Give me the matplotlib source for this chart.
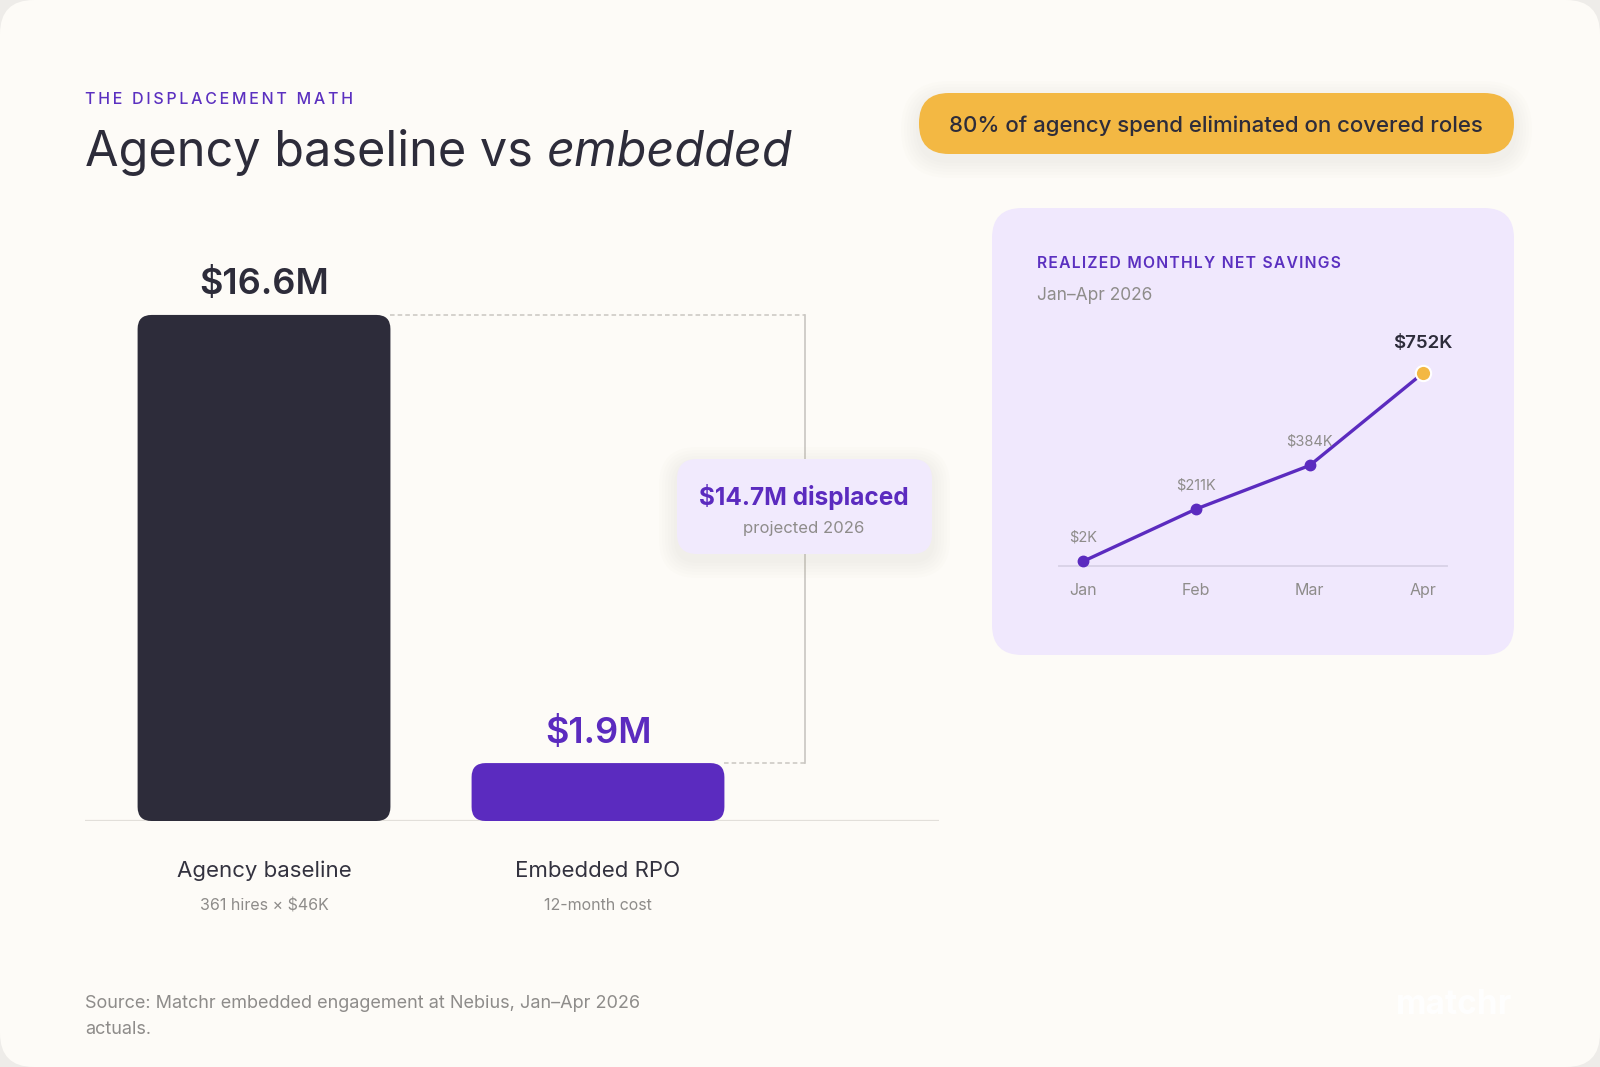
import matplotlib
matplotlib.use("Agg")
from matplotlib import pyplot as plt
from matplotlib.patches import FancyBboxPatch

# data
categories = ["Agency baseline", "Embedded RPO"]
sublabels = ["361 hires \u00d7 $46K", "12-month cost"]
costs = [16.6, 1.9]            # $M
cost_labels = ["$16.6M", "$1.9M"]
displaced = "$14.7M displaced"

months = ["Jan", "Feb", "Mar", "Apr"]
savings = [2, 211, 384, 752]  # $K
saving_labels = ["$2K", "$211K", "$384K", "$752K"]

DARK = "#2D2C3A"
PURPLE = "#5B2BBF"
YELLOW = "#F3B843"
CREAM = "#FDFBF7"
LAV = "#F0E8FD"
GREY = "#8E8C8A"

plt.rcParams["font.family"] = ["Inter", "DejaVu Sans"]

W, H = 1600, 1067
fig = plt.figure(figsize=(16, 10.67), dpi=100)
fig.patch.set_facecolor("#EEECE9")


def fx(px):
    return px / W


def fy(py):
    return 1 - py / H


def track(s, sp="\u2009"):
    return sp.join(s)


def rbox(ax, x0, y0, x1, y1, r, color, z=1, **kw):
    p = FancyBboxPatch((x0, y0), x1 - x0, y1 - y0,
                       boxstyle="round,pad=0,rounding_size=%g" % r,
                       fc=color, ec="none", zorder=z, **kw)
    ax.add_patch(p)
    return p


def shadow(ax, x0, y0, x1, y1, r, z=1):
    for i in range(6):
        g = 3 + i * 3
        rbox(ax, x0 - g, y0 - g + 6, x1 + g, y1 + g + 6, r + g, "#B8A890",
             z=z, alpha=0.018)


# background in pixel coordinates
bg = fig.add_axes([0, 0, 1, 1], zorder=0)
bg.set_xlim(0, W)
bg.set_ylim(H, 0)
bg.axis("off")
rbox(bg, 0, 0, W, H, 34, CREAM)

bg.text(85, 100, track("THE DISPLACEMENT MATH"), color="#5B30C0",
        fontsize=11.5, fontweight="medium", va="center", ha="left")
t = bg.text(85, 153, "Agency baseline vs ", color=DARK, fontsize=35,
            fontweight="normal", va="center", ha="left")
fig.canvas.draw()
bb = t.get_window_extent()
bg.text(85 + bb.width, 153, "embedded", color=DARK, fontsize=35,
        fontweight="normal", style="italic", va="center", ha="left")

# pill
shadow(bg, 919, 93, 1514, 154, 30)
rbox(bg, 919, 93, 1514, 154, 30, YELLOW, z=2)
bg.text(1216, 126, "80% of agency spend eliminated on covered roles",
        color=DARK, fontsize=16, fontweight="medium", ha="center",
        va="center", zorder=3)

# inset card
rbox(bg, 992, 208, 1514, 655, 30, LAV)
bg.text(1037, 264, track("REALIZED MONTHLY NET SAVINGS", "\u200a"),
        color="#5B30C0", fontsize=11.3, fontweight="semibold", va="center",
        ha="left")
bg.text(1037, 296, "Jan\u2013Apr 2026", color=GREY, fontsize=12.5,
        va="center", ha="left")

# footer
bg.text(85, 1004, "Source: Matchr embedded engagement at Nebius, Jan\u2013Apr 2026",
        color=GREY, fontsize=13, va="center", ha="left")
bg.text(85, 1030, "actuals.", color=GREY, fontsize=13, va="center", ha="left")
bg.text(1454, 1005, "matchr", color="white", fontsize=24, fontweight="bold",
        va="center", ha="center", alpha=0.9)

# bar chart
ax = fig.add_axes([fx(85), fy(821), fx(939 - 85), (821 - 250) / H], zorder=1)
ax.patch.set_alpha(0)
ax.set_xlim(-0.536, 2.021)
ax.set_ylim(0, 18.73)
for s in ax.spines.values():
    s.set_visible(False)
ax.set_xticks([])
ax.set_yticks([])
ax.axhline(0, color="#E2DFDA", lw=1.6, zorder=1)

bars = ax.bar(range(len(costs)), costs, width=0.757, color=[DARK, PURPLE])
fig.canvas.draw()
abb = ax.get_window_extent()
ppx = abb.width / (ax.get_xlim()[1] - ax.get_xlim()[0])
ppy = abb.height / (ax.get_ylim()[1] - ax.get_ylim()[0])
rad = 14 / ppx
for b in bars:
    b.set_visible(False)
    p = FancyBboxPatch((b.get_x(), b.get_y()), b.get_width(), b.get_height(),
                       boxstyle="round,pad=0,rounding_size=%g" % rad,
                       mutation_aspect=ppx / ppy, fc=b.get_facecolor(),
                       ec="none", zorder=2)
    ax.add_patch(p)

label_colors = [DARK, PURPLE]
for i, v in enumerate(costs):
    ax.annotate(cost_labels[i], (i, v), xytext=(0, 22), textcoords="offset points",
                ha="center", va="center", fontsize=26, fontweight="semibold",
                color=label_colors[i])
    ax.annotate(categories[i], (i, 0), xytext=(0, -36), textcoords="offset points",
                ha="center", va="center", fontsize=16, color="#33323F",
                annotation_clip=False)
    ax.annotate(sublabels[i], (i, 0), xytext=(0, -61), textcoords="offset points",
                ha="center", va="center", fontsize=11.5, color=GREY,
                annotation_clip=False)

# displacement bracket
bx = 1.62
right0 = bars[0].get_x() + bars[0].get_width()
right1 = bars[1].get_x() + bars[1].get_width()
ax.plot([right0, bx], [costs[0], costs[0]], color="#C9C6C1", lw=1.1,
        ls=(0, (3, 2)), zorder=1)
ax.plot([right1, bx], [costs[1], costs[1]], color="#C9C6C1", lw=1.1,
        ls=(0, (3, 2)), zorder=1)
ax.plot([bx, bx], [costs[1], costs[0]], color="#C9C6C1", lw=1.2, zorder=1)

# overlay for the displaced box
ov = fig.add_axes([0, 0, 1, 1], zorder=3)
ov.set_xlim(0, W)
ov.set_ylim(H, 0)
ov.axis("off")
shadow(ov, 677, 459, 932, 554, 20)
rbox(ov, 677, 459, 932, 554, 20, "#F1EAFD", z=2)
ov.text(804, 497, displaced, color=PURPLE, fontsize=17.5, fontweight="bold",
        ha="center", va="center", zorder=3)
ov.text(804, 528, "projected 2026", color=GREY, fontsize=12, ha="center",
        va="center", zorder=3)

# line chart inside card
lx = fig.add_axes([fx(1059), fy(566), fx(1447 - 1059), (566 - 340) / H], zorder=2)
lx.patch.set_alpha(0)
xs = list(range(len(months)))
lx.set_xlim(-0.21, 3.21)
lx.set_ylim(-16, 883)
for k in ["top", "left", "right"]:
    lx.spines[k].set_visible(False)
lx.spines["bottom"].set_color("#DAD3E8")
lx.spines["bottom"].set_linewidth(1.4)
lx.set_yticks([])
lx.set_xticks(xs, months)
lx.tick_params(axis="x", length=0, pad=12.5, labelsize=11.5, labelcolor=GREY)
lx.plot(xs, savings, color=PURPLE, lw=2.4, zorder=3, clip_on=False)
lx.plot(xs[:-1], savings[:-1], "o", color=PURPLE, ms=7.5, zorder=4, clip_on=False)
lx.plot(xs[-1], savings[-1], "o", color=YELLOW, mec="white", mew=1.5, ms=11,
        zorder=5, clip_on=False)
for i, v in enumerate(savings):
    last = i == len(savings) - 1
    lx.annotate(saving_labels[i], (i, v), xytext=(0, 21 if last else 17),
                textcoords="offset points", ha="center", va="center",
                fontsize=13.5 if last else 10.5,
                fontweight="semibold" if last else "normal",
                color=DARK if last else GREY, annotation_clip=False)

fig.savefig("out.png", dpi=100, facecolor=fig.get_facecolor())
